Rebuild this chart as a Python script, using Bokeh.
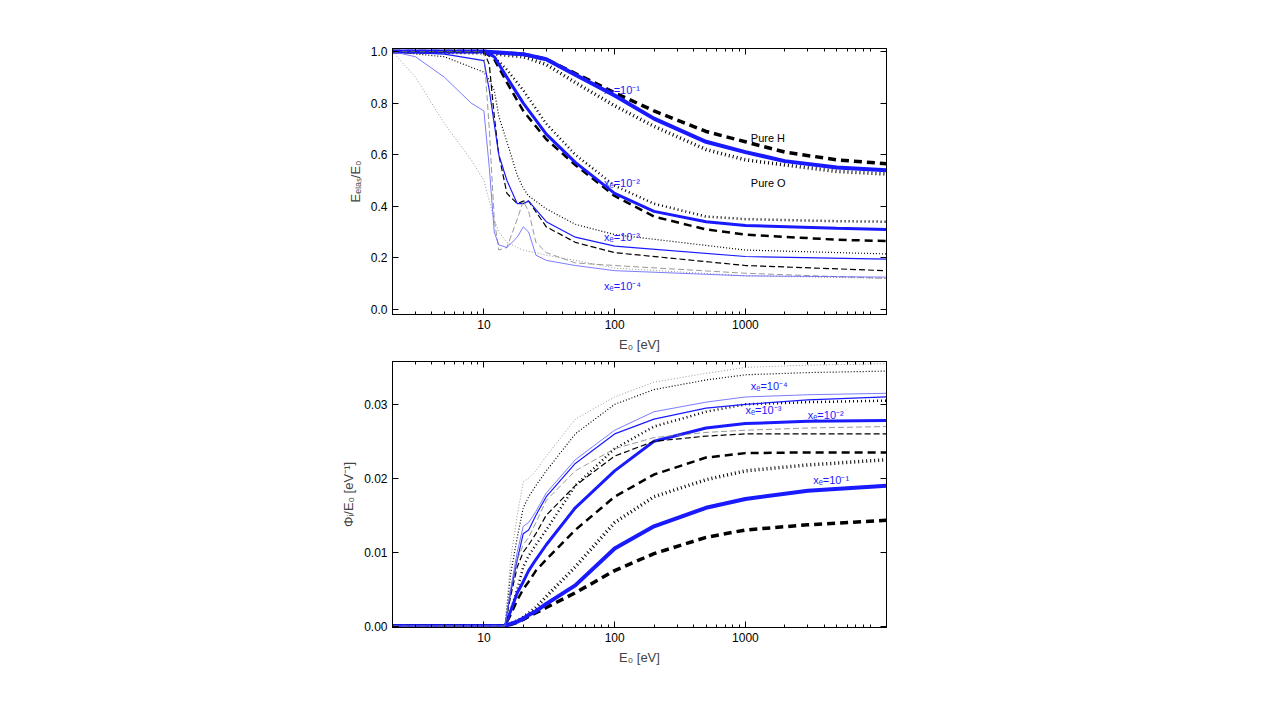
from bokeh.plotting import figure
from bokeh.layouts import column
from bokeh.models import LogAxis, LinearAxis, Range1d, FixedTicker, NumeralTickFormatter
from bokeh.embed import file_html
from bokeh.resources import INLINE
from bokeh.core.properties import value

# ---- top panel data: E_elas/E0 ----
e1 = [2, 10, 20, 30, 50, 100, 200, 500, 1000, 2000, 5000, 12000]
t1_blue = [1.0, 1.0, 0.99, 0.97, 0.91, 0.83, 0.74, 0.65, 0.61, 0.575, 0.55, 0.54]
t1_H = [1.0, 1.0, 0.99, 0.97, 0.915, 0.84, 0.77, 0.69, 0.65, 0.61, 0.58, 0.565]
t1_O = [1.0, 0.995, 0.98, 0.95, 0.88, 0.79, 0.71, 0.62, 0.58, 0.56, 0.535, 0.525]

e2 = [2, 10, 12, 15, 20, 30, 50, 100, 200, 500, 1000, 5000, 12000]
t2_blue = [1.0, 1.0, 0.98, 0.90, 0.80, 0.68, 0.57, 0.45, 0.38, 0.34, 0.325, 0.315, 0.31]
t2_H = [1.0, 1.0, 0.97, 0.88, 0.77, 0.66, 0.56, 0.44, 0.36, 0.31, 0.29, 0.27, 0.265]
t2_O = [1.0, 1.0, 0.98, 0.93, 0.85, 0.72, 0.60, 0.48, 0.41, 0.36, 0.35, 0.342, 0.34]

e3 = [2, 5, 10, 11, 12, 13, 15, 18, 20, 22, 30, 50, 100, 1000, 12000]
t3_blue = [1.0, 0.99, 0.965, 0.85, 0.72, 0.6, 0.5, 0.41, 0.41, 0.42, 0.34, 0.28, 0.245, 0.205, 0.195]
t3_H = [1.0, 1.0, 1.0, 0.95, 0.75, 0.6, 0.45, 0.41, 0.42, 0.42, 0.32, 0.26, 0.22, 0.17, 0.15]
t3_O = [1.0, 0.98, 0.92, 0.89, 0.85, 0.75, 0.65, 0.52, 0.47, 0.44, 0.39, 0.33, 0.29, 0.23, 0.215]

e4 = [2, 3, 5, 8, 10, 11, 12, 13, 15, 18, 20, 22, 25, 30, 50, 100, 1000, 12000]
t4_blue = [1.0, 0.98, 0.90, 0.80, 0.77, 0.55, 0.30, 0.25, 0.24, 0.28, 0.32, 0.30, 0.21, 0.19, 0.17, 0.15, 0.13, 0.125]
t4_H = [1.0, 1.0, 1.0, 1.0, 1.0, 0.70, 0.35, 0.23, 0.24, 0.35, 0.42, 0.38, 0.26, 0.22, 0.18, 0.17, 0.14, 0.12]
t4_O = [1.0, 0.90, 0.72, 0.58, 0.50, 0.42, 0.35, 0.30, 0.26, 0.24, 0.23, 0.225, 0.22, 0.21, 0.19, 0.16, 0.13, 0.12]

# ---- bottom panel data: Phi_i/E0 ----
eb = [2, 14.5, 16, 18, 20, 22, 25, 30, 50, 100, 200, 500, 1000, 3000, 12000]
b1_blue = [0, 0, 0.0003, 0.0006, 0.001, 0.0015, 0.002, 0.003, 0.0055, 0.0105, 0.0135, 0.016, 0.0172, 0.0183, 0.019]
b1_H = [0, 0, 0.0002, 0.0005, 0.0009, 0.0013, 0.0018, 0.0025, 0.0045, 0.0075, 0.0098, 0.012, 0.013, 0.0137, 0.0143]
b1_O = [0, 0, 0.0003, 0.0007, 0.0012, 0.0017, 0.0025, 0.004, 0.008, 0.014, 0.0175, 0.0198, 0.0210, 0.0218, 0.0225]
b2_blue = [0, 0, 0.002, 0.0045, 0.006, 0.0075, 0.009, 0.011, 0.016, 0.021, 0.025, 0.0268, 0.0274, 0.0277, 0.0278]
b2_H = [0, 0, 0.0015, 0.0035, 0.005, 0.006, 0.0075, 0.009, 0.013, 0.0175, 0.0205, 0.0228, 0.0234, 0.0235, 0.0235]
b2_O = [0, 0, 0.002, 0.005, 0.008, 0.0095, 0.011, 0.013, 0.019, 0.024, 0.027, 0.029, 0.030, 0.0303, 0.0305]
b3_blue = [0, 0, 0.0045, 0.009, 0.0125, 0.013, 0.015, 0.0175, 0.022, 0.026, 0.028, 0.0295, 0.030, 0.0306, 0.031]
b3_H = [0, 0, 0.004, 0.008, 0.010, 0.011, 0.0125, 0.015, 0.019, 0.023, 0.025, 0.0257, 0.026, 0.026, 0.026]
b3_O = [0, 0, 0.007, 0.012, 0.016, 0.0175, 0.019, 0.021, 0.026, 0.030, 0.032, 0.0333, 0.034, 0.0343, 0.0345]
b4_blue = [0, 0, 0.005, 0.010, 0.0135, 0.014, 0.0155, 0.018, 0.0225, 0.0265, 0.029, 0.0303, 0.031, 0.0313, 0.0315]
b4_H = [0, 0, 0.005, 0.009, 0.011, 0.012, 0.014, 0.017, 0.021, 0.024, 0.0255, 0.0262, 0.0265, 0.0268, 0.027]
b4_O = [0, 0, 0.009, 0.015, 0.0195, 0.020, 0.021, 0.023, 0.028, 0.031, 0.033, 0.0342, 0.035, 0.0353, 0.0355]

x_ticks = [10, 100, 1000]

FONT = "Liberation Sans"
BLUE = "#1a1aff"
GRAY = "#808080"

def xticker():
    return FixedTicker(ticks=x_ticks,
                       minor_ticks=[m * 10 ** k for k in range(0, 5) for m in range(2, 10)])

def ticks_in(ax):
    ax.major_tick_in = 6
    ax.major_tick_out = 0
    ax.minor_tick_in = 3
    ax.minor_tick_out = 0
    ax.axis_line_color = "black"

def style(p, ylabel, ticks, fmt):
    for ax in [p.xaxis[0], p.yaxis[0]]:
        ticks_in(ax)
        ax.major_label_text_font = FONT
        ax.major_label_text_font_size = "12px"
        ax.axis_label_text_font = FONT
        ax.axis_label_text_font_size = "13px"
        ax.axis_label_text_font_style = "normal"
        ax.major_label_text_color = "black"
    p.xaxis[0].axis_label = "E₀ [eV]"
    p.xaxis[0].ticker = xticker()
    p.xaxis[0].major_label_overrides = {10: "10", 100: "100", 1000: "1000"}
    p.yaxis[0].axis_label = ylabel
    p.yaxis[0].ticker = FixedTicker(ticks=ticks)
    p.yaxis[0].formatter = NumeralTickFormatter(format=fmt)
    ra = LinearAxis(ticker=FixedTicker(ticks=ticks), major_label_text_color=None)
    ticks_in(ra)
    ta = LogAxis(ticker=xticker(), major_label_text_color=None)
    ticks_in(ta)
    p.add_layout(ra, "right")
    p.add_layout(ta, "above")
    p.grid.visible = False
    p.outline_line_color = "black"

def mk(top, bottom, yr):
    return figure(x_axis_type="log", x_range=Range1d(2, 12000), y_range=yr,
                  frame_width=494, frame_height=266, min_border_left=392, min_border_right=20,
                  min_border_top=top, min_border_bottom=bottom,
                  output_backend="svg", toolbar_location=None)

def trio(p, x, b, h, o, w, gray=False):
    bc = "#5a5aff" if gray else BLUE
    kc = GRAY if gray else "black"
    p.line(x, h, line_color=kc, line_width=w, line_dash="8 5" if w > 1.5 else "6 3")
    p.line(x, o, line_color=kc, line_width=w, line_dash="1 3" if w > 1.5 else "1 2")
    p.line(x, b, line_color=bc, line_width=w + 0.5 if w > 1.5 else w)

def lab(p, x, y, t, c=BLUE):
    p.text([x], [y], text=[t], text_color=c, text_font=value(FONT), text_font_size="11px",
           text_baseline="middle", text_align="left")

p1 = mk(48, 47, Range1d(-0.02, 1.012))
style(p1, "Eₑₗₐₛ/E₀", [0, 0.2, 0.4, 0.6, 0.8, 1.0], "0.0")
trio(p1, e1, t1_blue, t1_H, t1_O, 3.5)
trio(p1, e2, t2_blue, t2_H, t2_O, 2.5)
trio(p1, e3, t3_blue, t3_H, t3_O, 1.2)
trio(p1, e4, t4_blue, t4_H, t4_O, 0.8, gray=True)
lab(p1, 83, 0.85, "xₑ=10⁻¹")
lab(p1, 83, 0.49, "xₑ=10⁻²")
lab(p1, 83, 0.28, "xₑ=10⁻³")
lab(p1, 83, 0.09, "xₑ=10⁻⁴")
lab(p1, 1100, 0.665, "Pure H", "black")
lab(p1, 1100, 0.49, "Pure O", "black")

p2 = mk(0, 50, Range1d(-0.0002, 0.0358))
style(p2, "Φᵢ/E₀ [eV⁻¹]", [0, 0.01, 0.02, 0.03], "0.00")
trio(p2, eb, b1_blue, b1_H, b1_O, 3.5)
trio(p2, eb, b2_blue, b2_H, b2_O, 2.5)
trio(p2, eb, b3_blue, b3_H, b3_O, 1.2)
trio(p2, eb, b4_blue, b4_H, b4_O, 0.8, gray=True)
lab(p2, 1100, 0.0325, "xₑ=10⁻⁴")
lab(p2, 1000, 0.0293, "xₑ=10⁻³")
lab(p2, 3000, 0.0285, "xₑ=10⁻²")
lab(p2, 3300, 0.0198, "xₑ=10⁻¹")

open("out.html", "w").write(file_html(column(p1, p2, spacing=0), INLINE))
